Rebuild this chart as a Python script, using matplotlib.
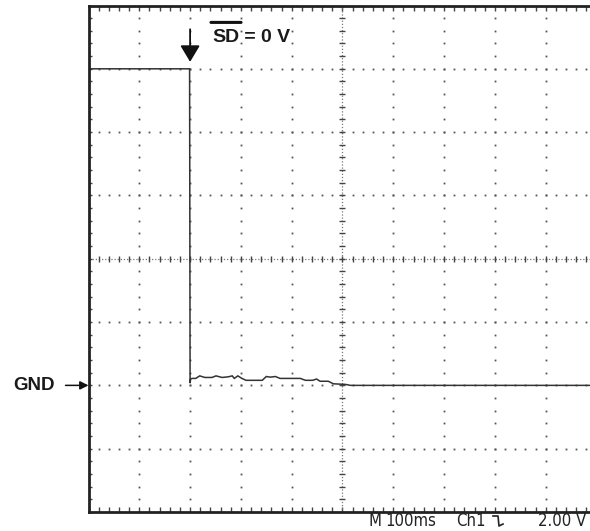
import matplotlib
matplotlib.use('Agg')
import matplotlib.pyplot as plt
import numpy as np
from matplotlib.lines import Line2D

# Scope trace: time in ms (100 ms/div), voltage in V (2 V/div), GND = 0 V
t_ms = [0, 199, 200, 201, 204, 211, 219, 229, 243, 251, 263, 275, 283, 287, 294,
        302, 310, 328, 342, 350, 358, 368, 377, 397, 417, 427, 441, 449, 456,
        472, 482, 506, 516, 1000]
volts = [10.0, 10.0, 0.07, 0.2, 0.22, 0.22, 0.3, 0.25, 0.25, 0.3, 0.25, 0.27, 0.3,
         0.22, 0.3, 0.22, 0.16, 0.16, 0.16, 0.28, 0.26, 0.28, 0.22, 0.22, 0.22,
         0.16, 0.16, 0.2, 0.13, 0.13, 0.05, 0.03, 0.0, 0.0]

t_event = 200          # SD goes low
gnd_label = 'GND'
scope_info = ['M', '100ms', 'Ch1', '2.00 V']

W, H = 590, 531
fig = plt.figure(figsize=(W / 100, H / 100), dpi=100)
ax = fig.add_axes([88.5 / W, (H - 512) / H, 508 / W, 506.5 / H])
ax.set_xlim(0, 1000)
ax.set_ylim(-4, 12)

# dotted graticule
xmaj = np.arange(0, 1001, 100)
ymaj = np.arange(-4, 12.01, 2)
xmin = np.arange(0, 1000.1, 20)
ymin = np.arange(-4, 12.01, 0.4)
dot = dict(ls='none', marker='s', ms=1.3, color='#555555', mew=0)
for x in xmaj[1:-1]:
    if x != 500:
        ax.plot([x] * len(ymin), ymin, **dot)
for y in ymaj[1:-1]:
    if y != 4:
        ax.plot(xmin, [y] * len(xmin), **dot)

# center cross
ax.axvline(500, ls=(0, (1, 1.5)), color='#777777', lw=0.9)
ax.axhline(4, ls=(0, (1, 1.5)), color='#777777', lw=0.9)
ax.plot([500] * len(ymin), ymin, ls='none', marker='_', ms=5, mew=1, color='#444444')
ax.plot(xmin, [4] * len(xmin), ls='none', marker='|', ms=5, mew=1, color='#444444')

# trace
ax.plot(t_ms, volts, color='#333333', lw=1.1, solid_joinstyle='miter')

# frame
ax.set_xticks(xmaj)
ax.set_xticks(xmin, minor=True)
ax.set_yticks(ymaj)
ax.set_yticks(ymin, minor=True)
ax.tick_params(which='both', direction='in', length=3.5, width=1, color='#444444',
               top=True, bottom=True, left=True, right=False,
               labelbottom=False, labelleft=False)
ax.tick_params(axis='y', which='both', length=2)
for s in ['left', 'top', 'bottom']:
    ax.spines[s].set_linewidth(2)
    ax.spines[s].set_color('#222222')
ax.spines['right'].set_visible(False)

# SD event arrow and label
ax.annotate('', xy=(t_event, 10.22), xytext=(t_event, 11.25),
            arrowprops=dict(arrowstyle='-|>,head_length=1.0,head_width=0.6',
                            mutation_scale=10, lw=1.3, color='#111111',
                            shrinkA=0, shrinkB=0))
lab_font = dict(fontsize=14, fontweight='bold', family='Liberation Sans',
                color='#1a1a1a', va='baseline')
sd_pos = (243, 10.85)
sd = ax.text(*sd_pos, 'SD', ha='left', **lab_font)
fig.canvas.draw()
bb = sd.get_window_extent()
base_y = ax.transData.transform(sd_pos)[1]
ax.annotate(' = 0 V', xy=(bb.x1, base_y), xycoords='figure pixels',
            ha='left', **lab_font)
cap_top = base_y + 14.5
ax.annotate('', xy=(bb.x0 - 1, cap_top + 5), xytext=(bb.x1 + 2, cap_top + 5),
            xycoords='figure pixels', textcoords='figure pixels',
            arrowprops=dict(arrowstyle='-', lw=2.2, color='#111111',
                            shrinkA=0, shrinkB=0))

# GND marker
ax.annotate('', xy=(0, 0), xytext=(-23, 0), textcoords='offset pixels',
            arrowprops=dict(arrowstyle='-|>,head_length=0.5,head_width=0.25',
                            mutation_scale=10, lw=1.1, color='#111111',
                            shrinkA=0, shrinkB=0), annotation_clip=False)
ax.annotate(gnd_label, xy=(0, 0), xytext=(-33.5, 0), textcoords='offset pixels',
            fontsize=13.5, fontweight='bold', family='Liberation Sans',
            color='#1a1a1a', ha='right', va='center', annotation_clip=False)

# scope readout
yb = (H - 526.5) / H
for txt, xp in zip(scope_info, [368, 385, 456, 538]):
    fig.text(xp / W, yb, txt, fontsize=12, family='DejaVu Sans',
             fontstretch='condensed', color='#222222', ha='left', va='baseline')
px = [493, 498, 499, 503]
py = [516, 516, 526, 524]
fig.add_artist(Line2D([p / W for p in px], [(H - p) / H for p in py],
                      color='#222222', lw=1.2))

fig.savefig('out.png', dpi=100)
